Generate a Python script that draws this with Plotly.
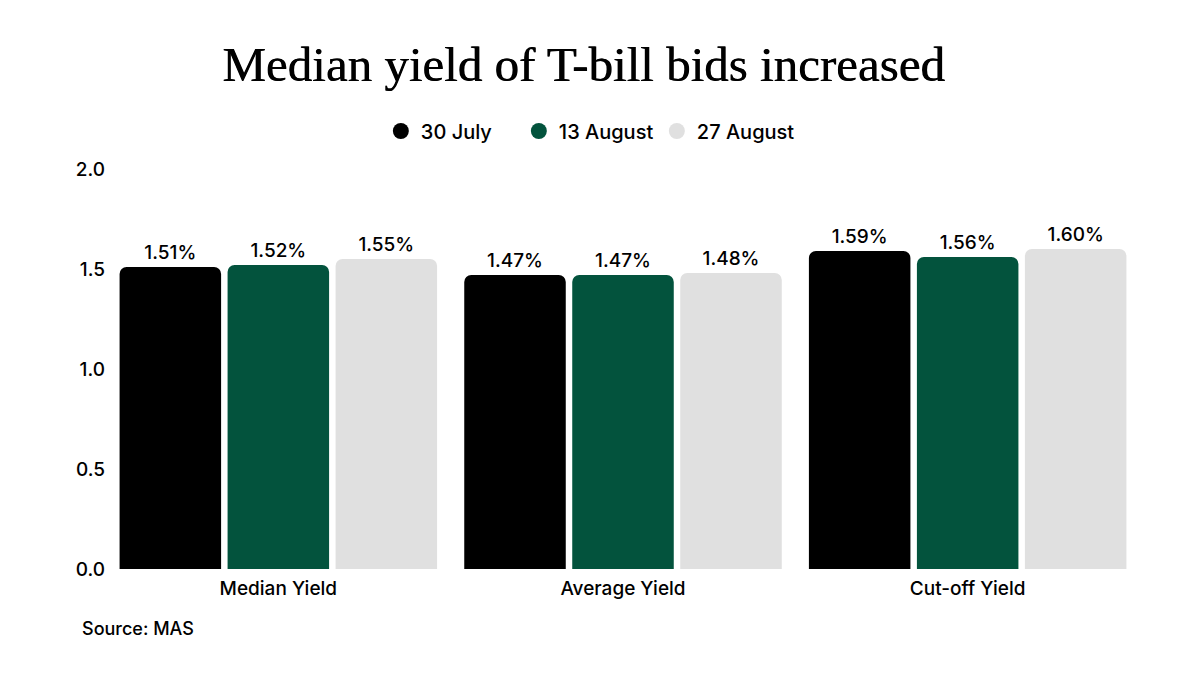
import plotly.graph_objects as go

# data
categories = ["Median Yield", "Average Yield", "Cut-off Yield"]
series_names = ["30 July", "13 August", "27 August"]
values_jul30 = [1.51, 1.47, 1.59]
values_aug13 = [1.52, 1.47, 1.56]
values_aug27 = [1.55, 1.48, 1.60]
colors = ["#000000", "#03533D", "#E0E0E0"]

all_values = [values_jul30, values_aug13, values_aug27]

fig = go.Figure()

for name, vals, col in zip(series_names, all_values, colors):
    fig.add_trace(go.Bar(
        x=categories, y=vals, name=name,
        marker=dict(color=col, line=dict(width=0)),
        text=[f"{v:.2f}%" for v in vals],
        textposition="outside",
        textfont=dict(family="Inter, Roboto, sans-serif", size=19, color="#000000", weight=500),
        cliponaxis=False,
        showlegend=False,
    ))
    # circle markers for the legend
    fig.add_trace(go.Scatter(
        x=[None], y=[None], mode="markers", name=name,
        marker=dict(symbol="circle", size=19, color=col),
    ))

# the page body adds an 8px offset, margins below allow for it
fig.update_layout(
    width=1200, height=675,
    paper_bgcolor="white", plot_bgcolor="white",
    margin=dict(l=98, r=68, t=161, b=114, autoexpand=False),
    barmode="group",
    bargap=0.06,
    bargroupgap=0.06,
    barcornerradius=7,
    font=dict(family="Inter, Roboto, sans-serif", color="#000000", weight=500),
    title=dict(
        text="Median yield of T-bill bids increased",
        font=dict(family="Liberation Serif, DejaVu Serif, serif", size=49, color="#000000",
                  shadow="0.6px 0 0 #000000"),
        x=0.4796, xanchor="center", y=0.917, yanchor="middle",
    ),
    legend=dict(
        orientation="h", x=0.466, xanchor="center", y=1.095, yanchor="middle",
        font=dict(size=20, weight=500), itemsizing="trace", traceorder="normal",
        entrywidth=93, entrywidthmode="pixels",
    ),
    xaxis=dict(
        showgrid=False, showline=False, ticks="",
        tickfont=dict(size=19, weight=500), automargin=False,
        ticklabelstandoff=6,
    ),
    yaxis=dict(
        range=[0, 2.0], dtick=0.5, tickformat=".1f",
        showgrid=False, showline=False, zeroline=False, ticks="",
        tickfont=dict(size=19, weight=500), automargin=False,
    ),
)

fig.add_annotation(
    text="Source: MAS", xref="paper", yref="paper",
    x=-0.025, y=-0.148, xanchor="left", yanchor="middle",
    showarrow=False, font=dict(size=18, color="#000000", weight=500),
)

fig.write_html("out.html")
